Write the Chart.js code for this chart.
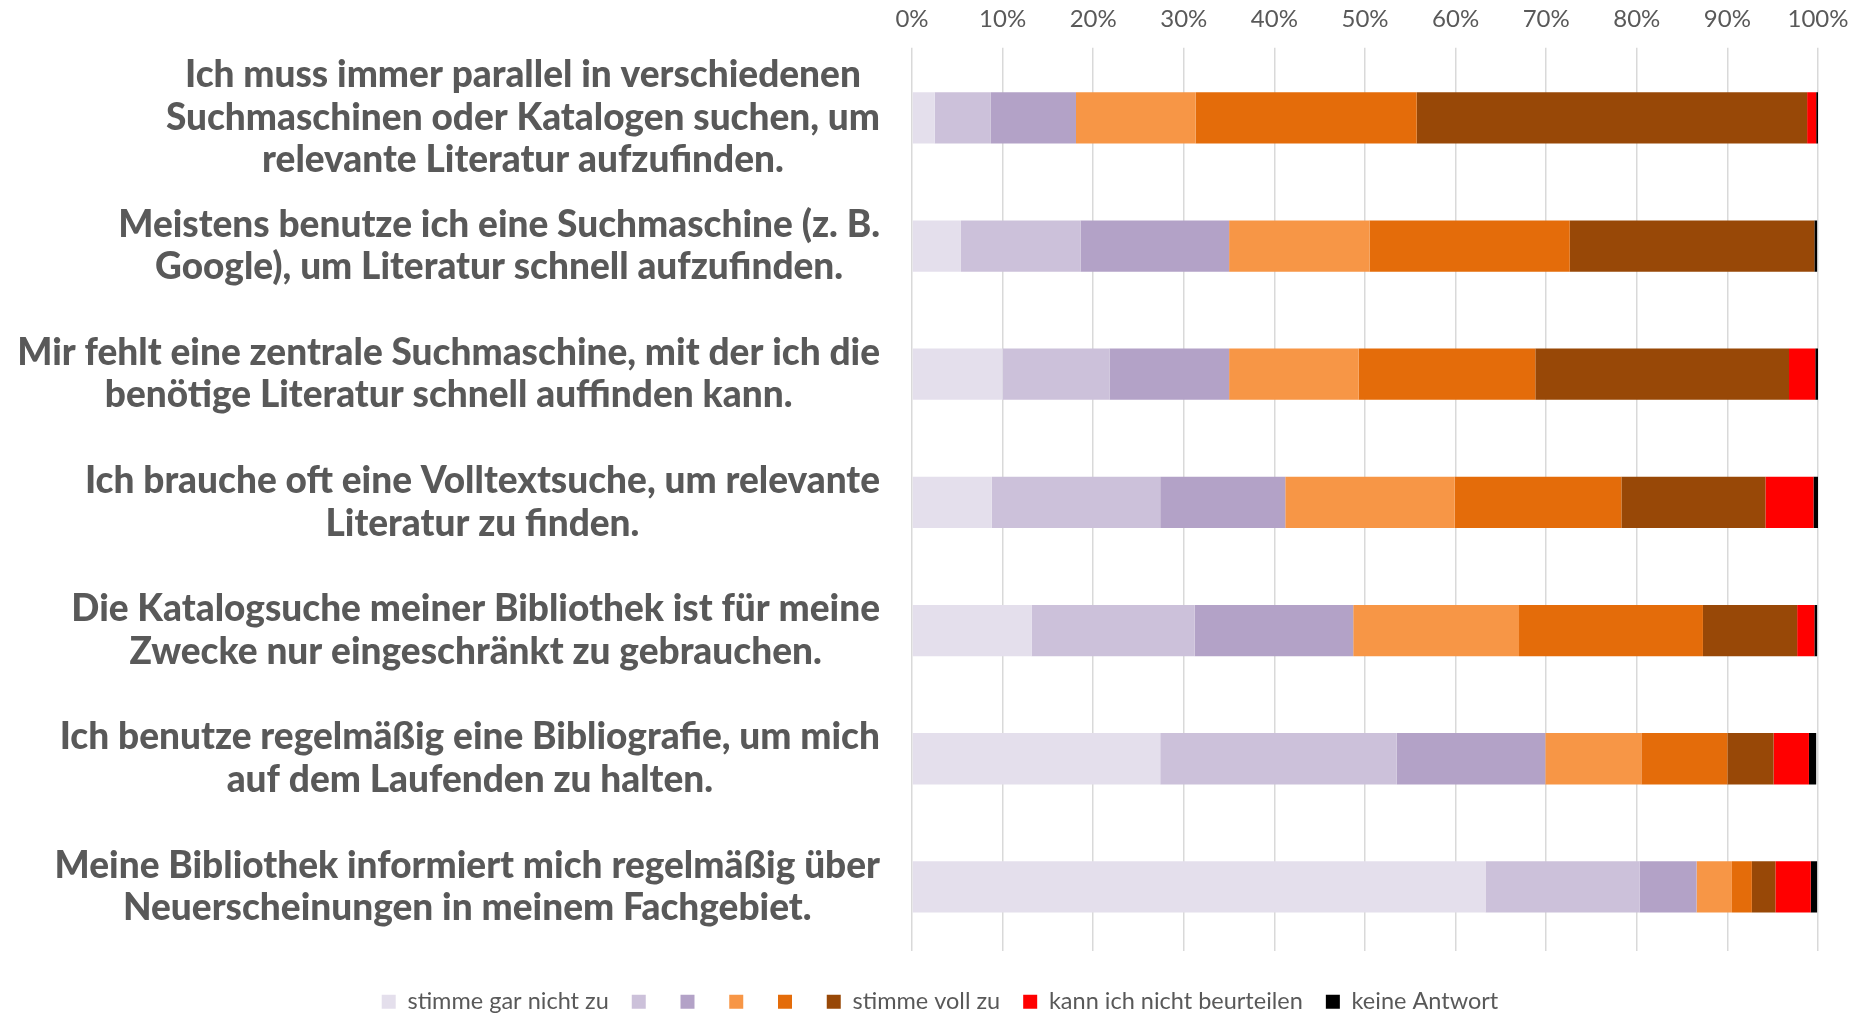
<!DOCTYPE html>
<html lang="de">
<head>
<meta charset="utf-8">
<title>Literatursuche</title>
<script src="https://cdn.jsdelivr.net/npm/chart.js@4.4.1/dist/chart.umd.min.js"></script>
<style>
  html, body { margin: 0; padding: 0; background: #fff; }
  #wrap { width: 1864px; height: 1016px; }
</style>
</head>
<body>
<div id="wrap"><canvas id="grafico"></canvas></div>
<script>
const aussagen = [
  ["Ich muss immer parallel in verschiedenen", "Suchmaschinen oder Katalogen suchen, um", "relevante Literatur aufzufinden."],
  ["Meistens benutze ich eine Suchmaschine (z. B.", "Google), um Literatur schnell aufzufinden."],
  ["Mir fehlt eine zentrale Suchmaschine, mit der ich die", "benötige Literatur schnell auffinden kann."],
  ["Ich brauche oft eine Volltextsuche, um relevante", "Literatur zu finden."],
  ["Die Katalogsuche meiner Bibliothek ist für meine", "Zwecke nur eingeschränkt zu gebrauchen."],
  ["Ich benutze regelmäßig eine Bibliografie, um mich", "auf dem Laufenden zu halten."],
  ["Meine Bibliothek informiert mich regelmäßig über", "Neuerscheinungen in meinem Fachgebiet."]
];

// Anteile in Prozent, je Aussage (von oben nach unten)
const garNicht   = [2.5, 5.4, 10.0, 8.8, 13.2, 27.4, 63.3];
const stufe2     = [6.2, 13.2, 11.8, 18.6, 18.0, 26.1, 17.0];
const stufe3     = [9.4, 16.4, 13.2, 13.8, 17.5, 16.4, 6.3];
const stufe4     = [13.2, 15.5, 14.3, 18.7, 18.3, 10.6, 3.9];
const stufe5     = [24.4, 22.1, 19.5, 18.4, 20.3, 9.5, 2.2];
const vollZu     = [43.1, 27.0, 28.0, 15.9, 10.4, 5.1, 2.6];
const nichtBeurt = [1.0, 0.0, 2.9, 5.3, 1.9, 3.9, 3.9];
const keineAntw  = [0.2, 0.3, 0.3, 0.5, 0.3, 0.8, 0.7];

const legendeTexte = ["stimme gar nicht zu", "", "", "", "", "stimme voll zu", "kann ich nicht beurteilen", "keine Antwort"];
const farben = ["#E4DFEC", "#CCC1DA", "#B3A2C7", "#F79646", "#E46C0A", "#984807", "#FF0000", "#000000"];
const reihen = [garNicht, stufe2, stufe3, stufe4, stufe5, vollZu, nichtBeurt, keineAntw];

const grau = "#595959";
const labelFont = "900 37px Lato";

const aussagenPlugin = {
  id: "aussagen",
  beforeInit: function (chart) {
    const fitOrig = chart.legend.fit;
    chart.legend.fit = function () {
      fitOrig.call(this);
      this.height = 65;
    };
  },
  afterDraw: function (chart) {
    const ctx = chart.ctx;
    const yAchse = chart.scales.y;
    const rechts = chart.chartArea.left - 32;
    ctx.save();
    ctx.font = labelFont;
    ctx.fillStyle = grau;
    ctx.textAlign = "center";
    ctx.textBaseline = "middle";
    aussagen.forEach(function (zeilen, i) {
      const mitte = yAchse.getPixelForValue(i);
      const breite = Math.max.apply(null, zeilen.map(function (z) { return ctx.measureText(z).width; }));
      const cx = rechts - breite / 2;
      zeilen.forEach(function (z, k) {
        ctx.fillText(z, cx, mitte + (k - (zeilen.length - 1) / 2) * 42.5);
      });
    });
    ctx.restore();
  }
};

function zeichnen() {
  const context = document.getElementById("grafico");
  new Chart(context, {
    type: "bar",
    data: {
      labels: aussagen.map(function (z) { return z.join(" "); }),
      datasets: reihen.map(function (werte, i) {
        return {
          label: legendeTexte[i],
          data: werte,
          backgroundColor: farben[i],
          borderWidth: 0,
          categoryPercentage: 1,
          barPercentage: 0.4
        };
      })
    },
    options: {
      indexAxis: "y",
      responsive: true,
      maintainAspectRatio: false,
      animation: false,
      layout: { padding: { top: -9, right: 46, bottom: 0, left: 62 } },
      scales: {
        x: {
          position: "top",
          stacked: true,
          min: 0,
          max: 100,
          ticks: {
            stepSize: 10,
            color: grau,
            padding: 14,
            font: { family: "Lato", size: 24 },
            callback: function (v) { return v + "%"; }
          },
          grid: { color: "#D9D9D9", lineWidth: 1.5, drawTicks: true, tickLength: 6 },
          border: { display: false }
        },
        y: {
          stacked: true,
          ticks: { display: false },
          grid: { display: false },
          border: { display: false },
          afterFit: function (s) { s.width = 850; }
        }
      },
      plugins: {
        legend: {
          position: "bottom",
          title: { display: true, text: "", font: { size: 10 }, padding: { top: 4, bottom: 0 } },
          labels: {
            boxWidth: 14,
            boxHeight: 14,
            padding: 23,
            color: grau,
            font: { family: "Lato", size: 23.5 }
          }
        },
        tooltip: { enabled: false }
      }
    },
    plugins: [aussagenPlugin]
  });
}

if (document.fonts && document.fonts.load) {
  Promise.all([
    document.fonts.load(labelFont),
    document.fonts.load("24px Lato")
  ]).then(zeichnen, zeichnen);
} else {
  zeichnen();
}
</script>
</body>
</html>
